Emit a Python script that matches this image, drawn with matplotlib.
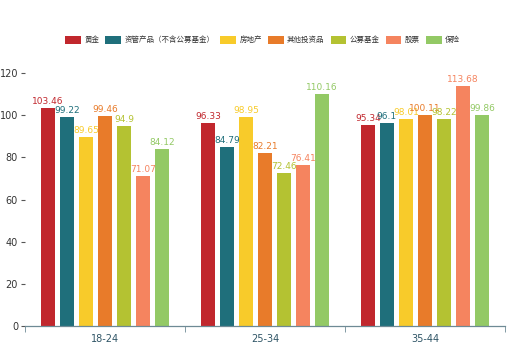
#!/usr/bin/env python3
# Grouped bar chart: investment preference index by age group

import matplotlib
matplotlib.use('Agg')
import matplotlib.pyplot as plt
from matplotlib.patches import FancyBboxPatch
from matplotlib.legend_handler import HandlerPatch
import numpy as np

plt.rcParams['font.family'] = ['Noto Sans CJK SC', 'DejaVu Sans']

age_groups = ['18-24', '25-34', '35-44']
series_names = ['黄金', '资管产品（不含公募基金）', '房地产', '其他投资品', '公募基金', '股票', '保险']
series_colors = ['#c1272d', '#1f6f7b', '#f8cb2a', '#e87b2a', '#b4c232', '#f5845f', '#93c965']
values = {
    '黄金': [103.46, 96.33, 95.34],
    '资管产品（不含公募基金）': [99.22, 84.79, 96.1],
    '房地产': [89.65, 98.95, 98.01],
    '其他投资品': [99.46, 82.21, 100.11],
    '公募基金': [94.9, 72.46, 98.22],
    '股票': [71.07, 76.41, 113.68],
    '保险': [84.12, 110.16, 99.86],
}


def rounded_patch(legend, orig_handle, xdescent, ydescent, width, height, fontsize):
    return FancyBboxPatch((-xdescent, -ydescent), width, height,
                          boxstyle='round,pad=0,rounding_size=2.5')


fig = plt.figure(figsize=(5.25, 3.55), dpi=100, facecolor='white')
ax = fig.add_axes([25 / 525, 29 / 355, 480 / 525, 253 / 355])

x = np.arange(len(age_groups))
step = 0.119
width = 0.088
n = len(series_names)
for i, (name, color) in enumerate(zip(series_names, series_colors)):
    offs = (i - (n - 1) / 2) * step
    ys = values[name]
    ax.bar(x + offs, ys, width, color=color, label=name, zorder=2)
    for xi, yi in zip(x + offs, ys):
        ax.text(xi, yi + 1.0, f'{yi:g}', color=color, fontsize=6.5,
                ha='center', va='bottom', family='DejaVu Sans')

ax.set_xlim(-0.5, 2.5)
ax.set_ylim(0, 120)
ax.set_yticks(range(0, 121, 20))
ax.set_xticks(x)
ax.set_xticklabels(age_groups, color='#2f5566', fontsize=7, family='DejaVu Sans')
ax.set_xticks([-0.5, 0.5, 1.5, 2.5], minor=True)
ax.tick_params(axis='x', which='major', length=0, pad=6)
ax.tick_params(axis='x', which='minor', length=4, color='#6e8a95')
ax.tick_params(axis='y', length=3, color='#555555', labelsize=7, labelcolor='#333333', pad=2)
for lab in ax.get_yticklabels():
    lab.set_family('DejaVu Sans')

for s in ['top', 'right', 'left']:
    ax.spines[s].set_visible(False)
ax.spines['bottom'].set_color('#6e8a95')
ax.spines['bottom'].set_linewidth(0.9)

handles, labels = ax.get_legend_handles_labels()
fig.legend(handles, labels, loc='center', bbox_to_anchor=(0.5, 1 - 40 / 355),
           ncol=7, frameon=False, fontsize=5.4, handlelength=2.1, handleheight=1.3,
           columnspacing=0.8, handletextpad=0.45, labelcolor='#333333',
           handler_map={matplotlib.patches.Rectangle: HandlerPatch(patch_func=rounded_patch)})

fig.savefig('out.png', dpi=100, facecolor='white')
